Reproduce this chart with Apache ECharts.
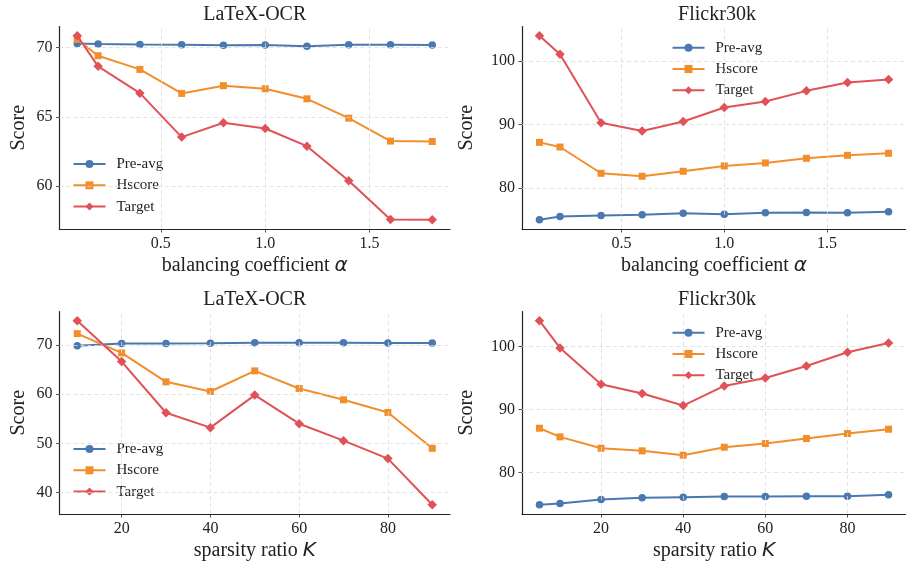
<!DOCTYPE html>
<html>
<head>
<meta charset="utf-8">
<script src="https://cdn.jsdelivr.net/npm/echarts@6/dist/echarts.min.js"></script>
<style>
  html, body { margin: 0; padding: 0; background: #fff; }
  #main { width: 906px; height: 565px; }
</style>
</head>
<body>
<div id="main"></div>
<script>
// x values
var alphaX = [0.1, 0.2, 0.4, 0.6, 0.8, 1.0, 1.2, 1.4, 1.6, 1.8];
var kLatexX = [10, 20, 30, 40, 50, 60, 70, 80, 90];
var kFlickrX = [5, 10, 20, 30, 40, 50, 60, 70, 80, 90];

// LaTeX-OCR, balancing coefficient
var latexAlphaPre = [70.31, 70.27, 70.24, 70.22, 70.17, 70.19, 70.10, 70.22, 70.22, 70.19];
var latexAlphaHscore = [70.60, 69.42, 68.43, 66.69, 67.25, 67.03, 66.30, 64.90, 63.24, 63.21];
var latexAlphaTarget = [70.87, 68.65, 66.71, 63.53, 64.57, 64.15, 62.87, 60.36, 57.56, 57.54];

// Flickr30k, balancing coefficient
var flickrAlphaPre = [74.97, 75.50, 75.65, 75.76, 76.02, 75.86, 76.07, 76.13, 76.07, 76.23];
var flickrAlphaHscore = [87.17, 86.44, 82.30, 81.83, 82.62, 83.46, 83.93, 84.66, 85.13, 85.45];
var flickrAlphaTarget = [103.98, 101.05, 90.26, 88.95, 90.47, 92.67, 93.61, 95.29, 96.60, 97.07];

// LaTeX-OCR, sparsity ratio
var latexKPre = [69.86, 70.27, 70.27, 70.34, 70.47, 70.47, 70.47, 70.41, 70.41];
var latexKHscore = [72.30, 68.38, 62.50, 60.54, 64.73, 61.15, 58.85, 56.28, 48.99];
var latexKTarget = [74.93, 66.62, 56.22, 53.18, 59.80, 53.99, 50.54, 46.89, 37.50];

// Flickr30k, sparsity ratio
var flickrKPre = [74.88, 75.09, 75.73, 75.99, 76.09, 76.20, 76.20, 76.25, 76.25, 76.46];
var flickrKHscore = [87.02, 85.65, 83.85, 83.43, 82.74, 84.01, 84.59, 85.38, 86.17, 86.86];
var flickrKTarget = [104.06, 99.74, 93.98, 92.51, 90.61, 93.72, 94.99, 96.89, 99.05, 100.53];

// tick labels
var alphaTicks = [0.5, 1.0, 1.5];
var kTicks = [20, 40, 60, 80];
var latexAlphaYTicks = [60, 65, 70];
var latexKYTicks = [40, 50, 60, 70];
var flickrYTicks = [80, 90, 100];

var seriesNames = ['Pre-avg', 'Hscore', 'Target'];
var colors = ['#4a78b0', '#f28e2b', '#e05257'];
var symbols = ['circle', 'rect', 'diamond'];
var symbolSizes = [7.5, 7, 9.5];

var serif = 'Liberation Serif';
var ink = '#222';

function zip(xs, ys) {
    var res = [];
    for (var i = 0; i < xs.length; i++) {
        res.push([xs[i], ys[i]]);
    }
    return res;
}

// matplotlib style 5% margins
function padMin(v) { return v.min - 0.05 * (v.max - v.min); }
function padMax(v) { return v.max + 0.05 * (v.max - v.min); }

var option = {
    animation: false,
    backgroundColor: '#fff',
    title: [],
    legend: [],
    grid: [],
    xAxis: [],
    yAxis: [],
    series: []
};

function addPanel(p) {
    var i = option.grid.length;
    option.grid.push({ left: p.left, top: p.top, width: p.width, height: 202.5 });
    option.title.push({
        text: p.title,
        left: p.left + p.width / 2,
        top: p.top - 21.5,
        textAlign: 'center',
        padding: 0,
        textStyle: { fontFamily: serif, fontSize: 20, fontWeight: 'normal', color: ink }
    });
    option.xAxis.push({
        type: 'value',
        gridIndex: i,
        min: padMin,
        max: padMax,
        name: p.xName,
        nameLocation: 'middle',
        nameGap: 27,
        nameTextStyle: {
            fontFamily: serif, fontSize: 20, color: ink,
            rich: { m: { fontFamily: 'DejaVu Sans', fontStyle: 'italic', fontSize: 20, color: ink } }
        },
        axisLine: { show: true, lineStyle: { color: ink, width: 1.2 } },
        axisTick: { show: true, length: 3.5, customValues: p.xTicks, lineStyle: { color: ink, width: 0.8 } },
        axisLabel: {
            customValues: p.xTicks,
            margin: 7,
            fontFamily: serif, fontSize: 16, color: ink,
            formatter: p.xFmt
        },
        splitLine: { show: false }
    });
    option.yAxis.push({
        type: 'value',
        gridIndex: i,
        min: padMin,
        max: padMax,
        name: 'Score',
        nameLocation: 'middle',
        nameGap: p.yGap,
        nameTextStyle: { fontFamily: serif, fontSize: 20, color: ink },
        axisLine: { show: true, lineStyle: { color: ink, width: 1.2 } },
        axisTick: { show: true, length: 3.5, customValues: p.yTicks, lineStyle: { color: ink, width: 0.8 } },
        axisLabel: { customValues: p.yTicks, margin: 7, fontFamily: serif, fontSize: 16, color: ink },
        splitLine: { show: false }
    });

    // dashed grid at the tick values (invisible carrier series)
    var gridLines = [];
    p.xTicks.forEach(function (v) { gridLines.push({ xAxis: v }); });
    p.yTicks.forEach(function (v) { gridLines.push({ yAxis: v }); });
    option.series.push({
        name: 'grid' + i,
        type: 'line',
        xAxisIndex: i,
        yAxisIndex: i,
        data: zip(p.x, p.ys[0]),
        symbol: 'none',
        silent: true,
        lineStyle: { opacity: 0 },
        z: 1,
        markLine: {
            silent: true,
            symbol: 'none',
            animation: false,
            label: { show: false },
            lineStyle: { color: '#dcdcdc', width: 0.8, type: [4, 3] },
            emphasis: { disabled: true },
            data: gridLines
        }
    });

    var legendData = [];
    for (var s = 0; s < 3; s++) {
        legendData.push({ name: seriesNames[s] });
        option.series.push({
            name: seriesNames[s],
            type: 'line',
            xAxisIndex: i,
            yAxisIndex: i,
            data: zip(p.x, p.ys[s]),
            symbol: symbols[s],
            symbolSize: symbolSizes[s],
            showSymbol: true,
            color: colors[s],
            lineStyle: { width: 2, color: colors[s] },
            itemStyle: { color: colors[s] },
            z: 3 + s
        });
    }
    option.legend.push({
        data: legendData,
        orient: 'vertical',
        left: p.legLeft,
        top: p.legTop,
        padding: 0,
        itemWidth: 32,
        itemHeight: 10,
        itemGap: 6.3,
        selectedMode: false,
        textStyle: { fontFamily: serif, fontSize: 15, color: ink, lineHeight: 15, padding: [0, 0, 0, 6] }
    });
}

function fmt1(v) { return v.toFixed(1); }
function fmt0(v) { return String(v); }

addPanel({
    title: 'LaTeX-OCR', left: 59.5, top: 26.5, width: 390.5,
    x: alphaX, ys: [latexAlphaPre, latexAlphaHscore, latexAlphaTarget],
    xTicks: alphaTicks, yTicks: latexAlphaYTicks, xFmt: fmt1,
    xName: 'balancing coefficient {m|α}', yGap: 31,
    legLeft: 72.5, legTop: 156.5
});
addPanel({
    title: 'Flickr30k', left: 522, top: 26.5, width: 390,
    x: alphaX, ys: [flickrAlphaPre, flickrAlphaHscore, flickrAlphaTarget],
    xTicks: alphaTicks, yTicks: flickrYTicks, xFmt: fmt1,
    xName: 'balancing coefficient {m|α}', yGap: 45,
    legLeft: 671.5, legTop: 40.2
});
addPanel({
    title: 'LaTeX-OCR', left: 59.5, top: 311.5, width: 390.5,
    x: kLatexX, ys: [latexKPre, latexKHscore, latexKTarget],
    xTicks: kTicks, yTicks: latexKYTicks, xFmt: fmt0,
    xName: 'sparsity ratio {m|K}', yGap: 31,
    legLeft: 72.5, legTop: 441.5
});
addPanel({
    title: 'Flickr30k', left: 522, top: 311.5, width: 390,
    x: kFlickrX, ys: [flickrKPre, flickrKHscore, flickrKTarget],
    xTicks: kTicks, yTicks: flickrYTicks, xFmt: fmt0,
    xName: 'sparsity ratio {m|K}', yGap: 45,
    legLeft: 671.5, legTop: 325.2
});

var chart = echarts.init(document.getElementById('main'), null, { renderer: 'canvas' });
chart.setOption(option);
</script>
</body>
</html>
